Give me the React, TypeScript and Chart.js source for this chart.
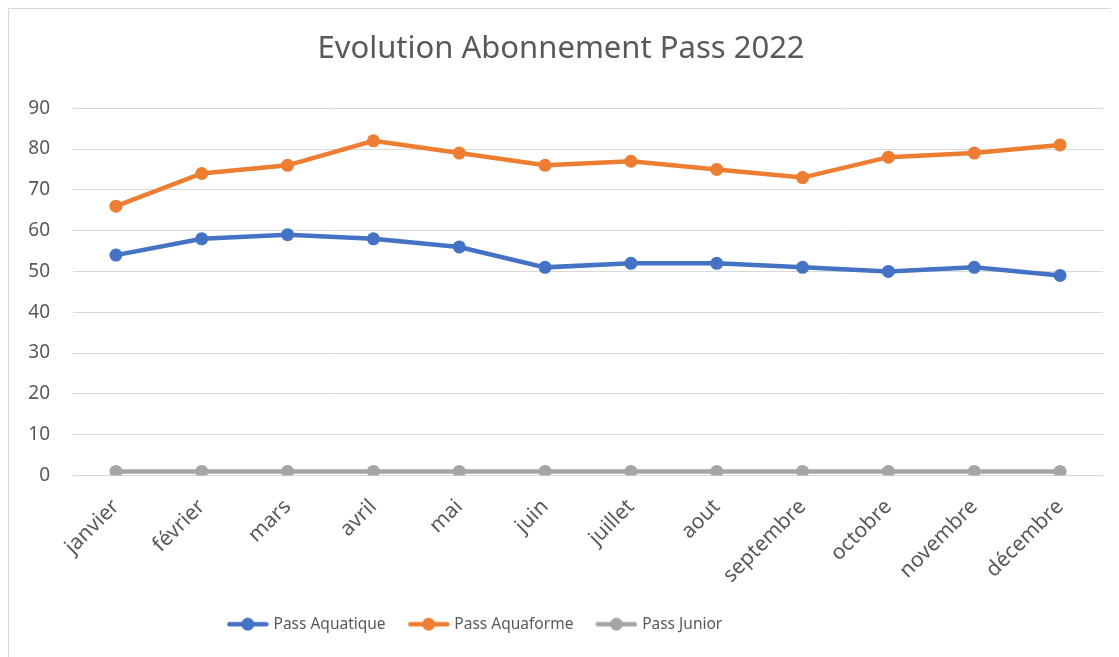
import React, { useEffect, useRef } from "react";
import { Chart, registerables } from "chart.js";

Chart.register(...registerables);

const months = [
  "janvier", "février", "mars", "avril", "mai", "juin",
  "juillet", "aout", "septembre", "octobre", "novembre", "décembre",
];
const passAquatique = [54, 58, 59, 58, 56, 51, 52, 52, 51, 50, 51, 49];
const passAquaforme = [66, 74, 76, 82, 79, 76, 77, 75, 73, 78, 79, 81];
const passJunior = [1, 1, 1, 1, 1, 1, 1, 1, 1, 1, 1, 1];
const seriesNames = ["Pass Aquatique", "Pass Aquaforme", "Pass Junior"];
const seriesColors = ["#4472C4", "#ED7D31", "#A5A5A5"];
const yMin = 0;
const yMax = 90;
const yStep = 10;
const titleText = "Evolution Abonnement Pass 2022";

const FONT = "'Noto Sans', sans-serif";
const TEXT = "#595959";
const LEGEND_DX = -85;

function legendIcon(color: string): HTMLCanvasElement {
  const c = document.createElement("canvas");
  c.width = 42;
  c.height = 14;
  const ctx = c.getContext("2d")!;
  ctx.strokeStyle = color;
  ctx.lineWidth = 4.5;
  ctx.lineCap = "round";
  ctx.beginPath();
  ctx.moveTo(2.5, 7);
  ctx.lineTo(39.5, 7);
  ctx.stroke();
  ctx.fillStyle = color;
  ctx.beginPath();
  ctx.arc(21, 7, 6.5, 0, Math.PI * 2);
  ctx.fill();
  return c;
}

const legendShift = {
  id: "legendShift",
  afterLayout(chart: any) {
    const l = chart.legend;
    if (l) {
      l.left += LEGEND_DX;
      l.right += LEGEND_DX;
    }
  },
};

export default function App() {
  const ref = useRef<HTMLCanvasElement | null>(null);

  useEffect(() => {
    if (!ref.current) return;
    const icons = seriesColors.map(legendIcon);
    const values = [passAquatique, passAquaforme, passJunior];
    const chart = new Chart(ref.current, {
      type: "line",
      data: {
        labels: months,
        datasets: values.map((v, i) => ({
          label: seriesNames[i],
          data: v,
          borderColor: seriesColors[i],
          backgroundColor: seriesColors[i],
          borderWidth: 4.5,
          pointRadius: 6.5,
          pointHoverRadius: 6.5,
          pointBorderWidth: 0,
          pointBackgroundColor: seriesColors[i],
          tension: 0,
          fill: false,
        })),
      },
      plugins: [legendShift],
      options: {
        animation: false,
        responsive: false,
        maintainAspectRatio: false,
        layout: { padding: { left: 10, right: 16, top: 0, bottom: 15 } },
        plugins: {
          title: {
            display: true,
            text: titleText,
            color: TEXT,
            font: { family: FONT, size: 31, weight: "normal" },
            padding: { top: 22, bottom: 40 },
          },
          legend: {
            position: "bottom",
            labels: {
              usePointStyle: true,
              pointStyleWidth: 36,
              boxHeight: 14,
              color: TEXT,
              font: { family: FONT, size: 15.5 },
              padding: 25,
              generateLabels: (c: any) => {
                const items = (Chart.defaults.plugins.legend.labels as any).generateLabels(c);
                items.forEach((it: any, i: number) => {
                  it.pointStyle = icons[i];
                });
                return items;
              },
            },
          },
          tooltip: { enabled: false },
        },
        scales: {
          x: {
            offset: true,
            grid: { display: false, drawTicks: false },
            border: { display: false },
            ticks: {
              color: TEXT,
              font: { family: FONT, size: 21 },
              maxRotation: 45,
              minRotation: 45,
              padding: 19,
            },
            afterFit: (s: any) => {
              s.height = 116;
            },
          },
          y: {
            min: yMin,
            max: yMax,
            grid: { color: "#D9D9D9", lineWidth: 1, drawTicks: false },
            border: { display: false },
            ticks: {
              stepSize: yStep,
              color: TEXT,
              font: { family: FONT, size: 19 },
              padding: 23,
            },
            afterFit: (s: any) => {
              s.width = 54;
            },
          },
        },
      },
    });
    return () => chart.destroy();
  }, []);

  return (
    <div
      style={{
        width: 1110,
        height: 648,
        borderLeft: "1px solid #D9D9D9",
        borderTop: "1px solid #D9D9D9",
        overflow: "hidden",
        background: "#fff",
      }}
    >
      <canvas ref={ref} width={1110} height={648} style={{ display: "block" }} />
    </div>
  );
}
